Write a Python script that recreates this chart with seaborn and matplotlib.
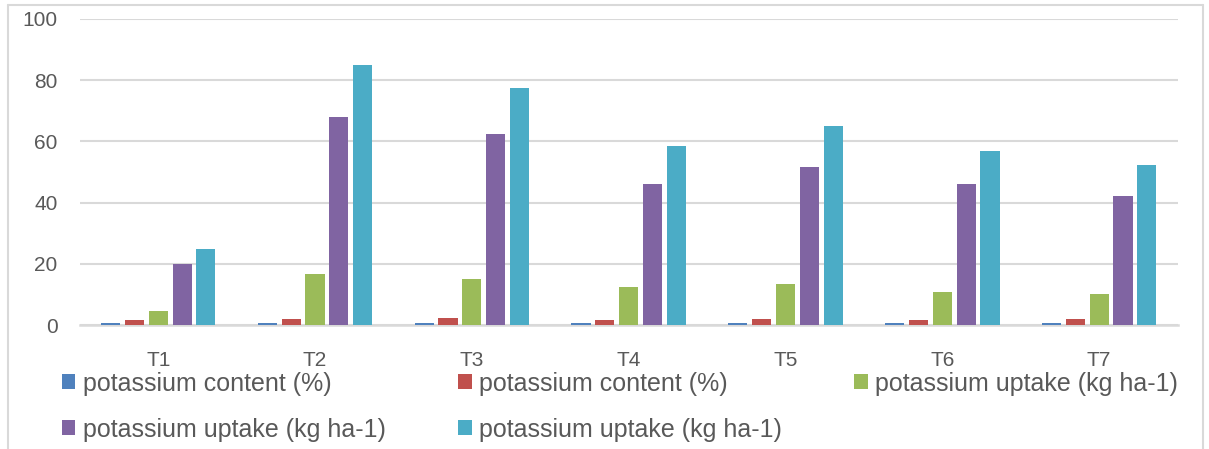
import numpy as np
import pandas as pd
import matplotlib
matplotlib.use("Agg")
import matplotlib.pyplot as plt
import seaborn as sns
from matplotlib.patches import Patch
from matplotlib.lines import Line2D

# Dados
tratamentos = ["T1", "T2", "T3", "T4", "T5", "T6", "T7"]
k_teor_a = [0.6, 0.8, 0.8, 0.8, 0.7, 0.8, 0.6]
k_teor_b = [1.5, 2.1, 2.2, 1.8, 1.9, 1.8, 1.9]
k_abs_a = [4.5, 16.8, 15.0, 12.4, 13.3, 10.7, 10.3]
k_abs_b = [20.0, 68.0, 62.3, 46.0, 51.7, 46.0, 42.0]
k_abs_c = [24.7, 85.0, 77.3, 58.5, 65.0, 57.0, 52.3]

series = ["s1", "s2", "s3", "s4", "s5"]
rotulos = ["potassium content (%)", "potassium content (%)",
           "potassium uptake (kg ha-1)", "potassium uptake (kg ha-1)",
           "potassium uptake (kg ha-1)"]
cores = ["#4F81BD", "#C0504D", "#9BBB59", "#8064A2", "#4BACC6"]

valores = [k_teor_a, k_teor_b, k_abs_a, k_abs_b, k_abs_c]
df = pd.DataFrame({
    "trat": tratamentos * len(series),
    "serie": np.repeat(series, len(tratamentos)),
    "valor": np.concatenate(valores),
})

sns.set_style("white")
plt.rcParams["font.family"] = ["Liberation Sans", "DejaVu Sans"]

fig = plt.figure(figsize=(12.09, 4.49), dpi=100)
ax = fig.add_axes([0.066, 0.276, 0.908, 0.682])

sns.barplot(data=df, x="trat", y="valor", hue="serie", order=tratamentos,
            hue_order=series, palette=cores, width=0.76, gap=0.2,
            saturation=1, linewidth=0, legend=False, ax=ax, zorder=3)

ax.set_ylim(0, 100)
ax.set_xlim(-0.5, 6.5)
ax.set_yticks(range(0, 101, 20))
ax.yaxis.grid(True, color="#D9D9D9", linewidth=1.5, zorder=0)
ax.set_axisbelow(True)
for s in ["left", "right", "top"]:
    ax.spines[s].set_visible(False)
ax.spines["bottom"].set_color("#D9D9D9")
ax.spines["bottom"].set_linewidth(1.8)
ax.spines["bottom"].set_zorder(2)
ax.tick_params(axis="both", length=0, labelsize=15, labelcolor="#595959")
ax.tick_params(axis="x", pad=19)
ax.tick_params(axis="y", pad=16)
ax.set_xlabel("")
ax.set_ylabel("")

# legenda em ordem de linha (3 colunas)
handles = [Patch(facecolor=c, edgecolor="none") for c in cores]
ordem = [0, 3, 1, 4, 2]
leg = fig.legend([handles[i] for i in ordem], [rotulos[i] for i in ordem],
                 ncol=3, loc="upper left", bbox_to_anchor=(0.051, 0.172),
                 frameon=False, fontsize=18, handlelength=0.55,
                 handleheight=0.55, handletextpad=0.3, columnspacing=2.88,
                 labelspacing=0.88, borderaxespad=0, borderpad=0)
for t in leg.get_texts():
    t.set_color("#595959")

# moldura externa
borda = dict(color="#D9D9D9", linewidth=1.5, transform=fig.transFigure)
fig.add_artist(Line2D([0.007, 0.007], [0, 0.989], **borda))
fig.add_artist(Line2D([0.007, 0.995], [0.989, 0.989], **borda))
fig.add_artist(Line2D([0.995, 0.995], [0, 0.989], **borda))

plt.savefig("out.png", dpi=100)
